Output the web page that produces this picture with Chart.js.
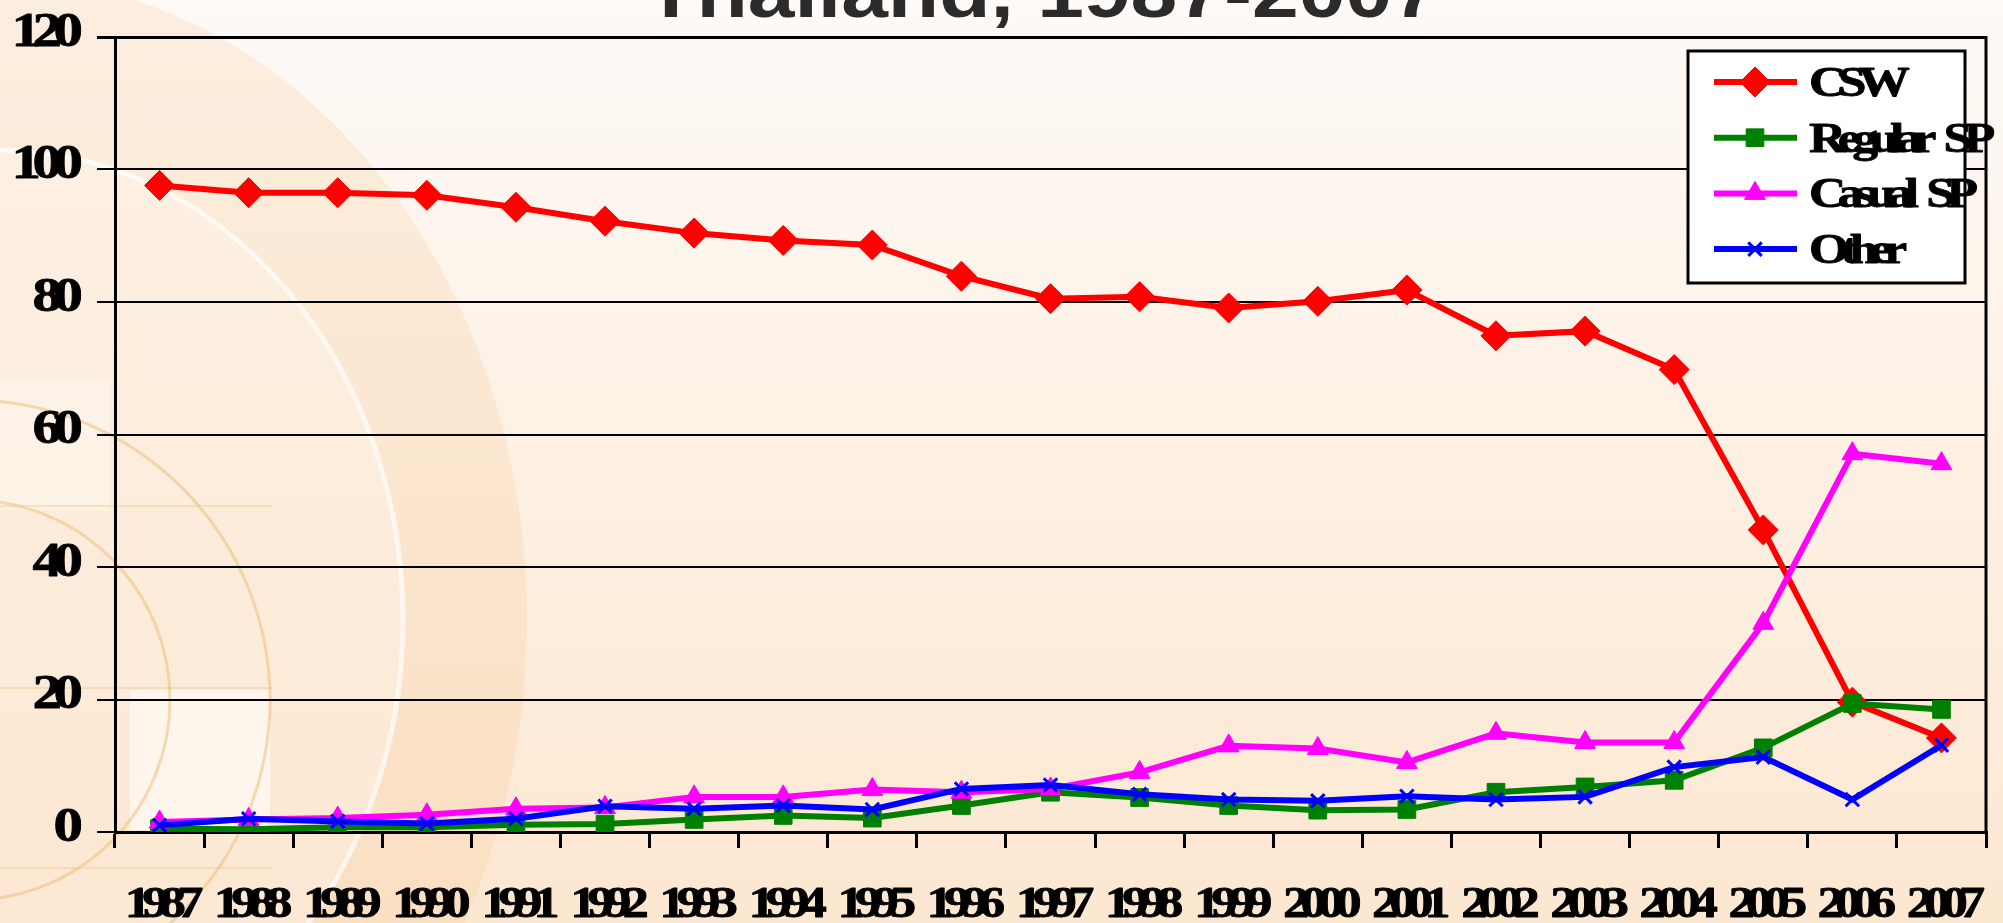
<!DOCTYPE html>
<html>
<head>
<meta charset="utf-8">
<title>Thailand, 1987-2007</title>
<script src="https://cdn.jsdelivr.net/npm/chart.js@4.4.1/dist/chart.umd.min.js"></script>
<style>
  html, body { margin: 0; padding: 0; background: #fdf0e4; }
  #wrap { width: 2003px; height: 923px; }
</style>
</head>
<body>
<div id="wrap"><canvas id="chart" width="2003" height="923"></canvas></div>
<script>
// data
const years = ["1987", "1988", "1989", "1990", "1991", "1992", "1993", "1994", "1995", "1996",
               "1997", "1998", "1999", "2000", "2001", "2002", "2003", "2004", "2005", "2006", "2007"];
const csw = [97.6, 96.5, 96.5, 96.1, 94.3, 92.2, 90.4, 89.3, 88.6, 83.9,
             80.5, 80.8, 79.1, 80.1, 81.8, 74.9, 75.6, 69.8, 45.6, 19.6, 14.2];
const regularSP = [0.5, 0.4, 0.7, 0.7, 1.1, 1.2, 1.9, 2.5, 2.1, 4.0,
                   6.0, 5.2, 4.0, 3.3, 3.4, 6.0, 6.8, 7.8, 12.7, 19.4, 18.5];
const casualSP = [1.5, 1.9, 2.1, 2.6, 3.5, 3.7, 5.3, 5.3, 6.4, 6.0,
                  6.5, 9.0, 13.0, 12.6, 10.5, 14.9, 13.5, 13.5, 31.5, 57.1, 55.6];
const other = [1.0, 2.0, 1.6, 1.3, 2.0, 3.9, 3.5, 4.0, 3.4, 6.5,
               7.1, 5.7, 4.9, 4.7, 5.4, 4.9, 5.3, 9.8, 11.3, 4.9, 13.1];
const seriesNames = ["CSW", "Regular SP", "Casual SP", "Other"];
const yTicks = [0, 20, 40, 60, 80, 100, 120];
const titleText = "Thailand, 1987-2007";

// the source image is stretched sideways, so text is drawn wide and tight
const STRETCH = 1.2;

function wideText(ctx, text, x, y, o) {
  ctx.save();
  ctx.font = o.font;
  const sp = o.spacing || 0;
  ctx.letterSpacing = sp + "px";
  ctx.fillStyle = o.color || "#000";
  ctx.strokeStyle = o.color || "#000";
  ctx.lineWidth = o.heavy || 0;
  ctx.lineJoin = "round";
  ctx.textAlign = "left";
  ctx.textBaseline = "alphabetic";
  const words = text.split(" ");
  const widths = words.map(w => ctx.measureText(w).width - sp);
  const gap = o.gap != null ? o.gap : ctx.measureText(" ").width;
  const total = widths.reduce((a, b) => a + b, 0) + gap * (words.length - 1);
  let pos = 0;
  if (o.align === "right") pos = -total;
  else if (o.align === "center") pos = -total / 2;
  ctx.translate(x, y);
  ctx.scale(STRETCH, 1);
  words.forEach((w, i) => {
    ctx.fillText(w, pos, 0);
    if (o.heavy) ctx.strokeText(w, pos, 0);
    pos += widths[i] + gap;
  });
  ctx.restore();
}

const backdrop = {
  id: "backdrop",
  beforeDraw(chart) {
    const ctx = chart.ctx;
    const W = chart.width, H = chart.height;
    ctx.save();
    const g = ctx.createLinearGradient(0, 0, 0, H);
    g.addColorStop(0, "#fefaf7");
    g.addColorStop(0.5, "#fdf0e3");
    g.addColorStop(1, "#fce7d1");
    ctx.fillStyle = g;
    ctx.fillRect(0, 0, W, H);

    // slide decoration on the left
    ctx.fillStyle = "rgba(247, 196, 140, 0.22)";
    ctx.beginPath();
    ctx.ellipse(0, 620, 527, 641, 0, 0, Math.PI * 2);
    ctx.fill();
    ctx.fillStyle = "rgba(255, 250, 244, 0.35)";
    ctx.beginPath();
    ctx.ellipse(0, 620, 403, 470, 0, 0, Math.PI * 2);
    ctx.fill();
    ctx.strokeStyle = "rgba(255, 255, 255, 0.65)";
    ctx.lineWidth = 5;
    ctx.beginPath();
    ctx.ellipse(0, 620, 403, 470, 0, 0, Math.PI * 2);
    ctx.stroke();

    ctx.fillStyle = "rgba(255, 255, 255, 0.55)";
    ctx.fillRect(130, 690, 140, 140);
    ctx.fillStyle = "rgba(255, 255, 255, 0.3)";
    ctx.fillRect(0, 380, 110, 130);

    ctx.strokeStyle = "rgba(235, 182, 105, 0.45)";
    ctx.lineWidth = 3;
    [300, 200].forEach(r => {
      ctx.beginPath();
      ctx.arc(-30, 700, r, 0, Math.PI * 2);
      ctx.stroke();
    });
    ctx.strokeStyle = "rgba(235, 185, 110, 0.3)";
    ctx.lineWidth = 2;
    [506, 688, 868].forEach(y => {
      ctx.beginPath();
      ctx.moveTo(0, y);
      ctx.lineTo(272, y);
      ctx.stroke();
    });
    ctx.restore();
  },
  afterDraw(chart) {
    const ctx = chart.ctx;
    const area = chart.chartArea;
    const xs = chart.scales.x, ys = chart.scales.y;

    // right edge of the plot frame
    ctx.save();
    ctx.strokeStyle = "#000";
    ctx.lineWidth = 3;
    ctx.beginPath();
    ctx.moveTo(area.right, area.top - 1);
    ctx.lineTo(area.right, area.bottom);
    ctx.stroke();
    ctx.restore();

    // tick labels, placed by the scales
    ys.ticks.forEach((t, i) => {
      const y = ys.getPixelForTick(i);
      wideText(ctx, String(t.value), 83, y + 8.5,
        { font: "bold 49px 'Liberation Serif'", spacing: -7, align: "right", heavy: 0.8 });
    });
    xs.ticks.forEach((t, i) => {
      const x = xs.getPixelForTick(i);
      wideText(ctx, years[i], x + 4.5, 917,
        { font: "bold 44px 'Liberation Serif'", spacing: -7.5, align: "center", heavy: 0.8 });
    });

    // title (only its last line is on the picture)
    wideText(ctx, titleText, 1042, 17,
      { font: "bold 70px 'Liberation Sans'", align: "center", color: "#2b2b2b" });

    // legend box
    const box = { left: 1688, top: 51, right: 1965, bottom: 283 };
    ctx.save();
    ctx.fillStyle = "#fff";
    ctx.fillRect(box.left, box.top, box.right - box.left, box.bottom - box.top);
    ctx.strokeStyle = "#000";
    ctx.lineWidth = 3;
    ctx.strokeRect(box.left, box.top, box.right - box.left, box.bottom - box.top);
    ctx.restore();

    chart.data.datasets.forEach((ds, i) => {
      const y = 82 + i * 55.7;
      ctx.save();
      ctx.strokeStyle = ds.borderColor;
      ctx.lineWidth = ds.borderWidth;
      ctx.beginPath();
      ctx.moveTo(1714, y);
      ctx.lineTo(1797, y);
      ctx.stroke();
      ctx.fillStyle = ds.pointBackgroundColor;
      ctx.strokeStyle = ds.pointBorderColor;
      ctx.lineWidth = ds.pointBorderWidth;
      Chart.helpers.drawPoint(ctx, {
        pointStyle: ds.pointStyle,
        radius: ds.pointRadius,
        rotation: 0,
        borderWidth: ds.pointBorderWidth
      }, 1755, y);
      ctx.restore();
      wideText(ctx, ds.label, 1809, y + 14,
        { font: "bold 43px 'Liberation Serif'", spacing: -7, align: "left", gap: 6, heavy: 0.8 });
    });
  }
};

function series(label, data, color, style, radius, bw, order) {
  return {
    label: label,
    data: data,
    borderColor: color,
    backgroundColor: color,
    borderWidth: 6,
    pointStyle: style,
    pointRadius: radius,
    pointHoverRadius: radius,
    pointBackgroundColor: color,
    pointBorderColor: color,
    pointBorderWidth: bw,
    tension: 0,
    order: order
  };
}

new Chart(document.getElementById("chart"), {
  type: "line",
  data: {
    labels: years,
    datasets: [
      series(seriesNames[0], csw, "#ff0000", "rectRot", 15, 1, 4),
      series(seriesNames[1], regularSP, "#008000", "rect", 12.5, 1, 3),
      series(seriesNames[2], casualSP, "#ff00ff", "triangle", 12, 1, 2),
      series(seriesNames[3], other, "#0000ff", "crossRot", 9.5, 3, 1)
    ]
  },
  options: {
    responsive: false,
    animation: false,
    devicePixelRatio: 1,
    layout: { padding: { top: 37, right: 17, left: 0, bottom: 0 } },
    plugins: {
      legend: { display: false },
      title: { display: false },
      tooltip: { enabled: false }
    },
    scales: {
      x: {
        type: "category",
        offset: true,
        ticks: { display: false },
        grid: {
          offset: true,
          drawOnChartArea: false,
          drawTicks: true,
          tickLength: 16,
          tickWidth: 3,
          tickColor: "#000",
          color: "#000",
          lineWidth: 3
        },
        border: { display: true, color: "#000", width: 3 },
        afterFit(scale) { scale.height = 91; }
      },
      y: {
        min: 0,
        max: 120,
        afterBuildTicks(scale) { scale.ticks = yTicks.map(v => ({ value: v })); },
        ticks: { display: false, stepSize: 20 },
        grid: {
          color: "#000",
          lineWidth: ctx => (ctx.tick && ctx.tick.value === 120 ? 3 : 2),
          drawTicks: true,
          tickLength: 18,
          tickColor: "#000"
        },
        border: { display: true, color: "#000", width: 3 },
        afterFit(scale) { scale.width = 115; }
      }
    }
  },
  plugins: [backdrop]
});
</script>
</body>
</html>
